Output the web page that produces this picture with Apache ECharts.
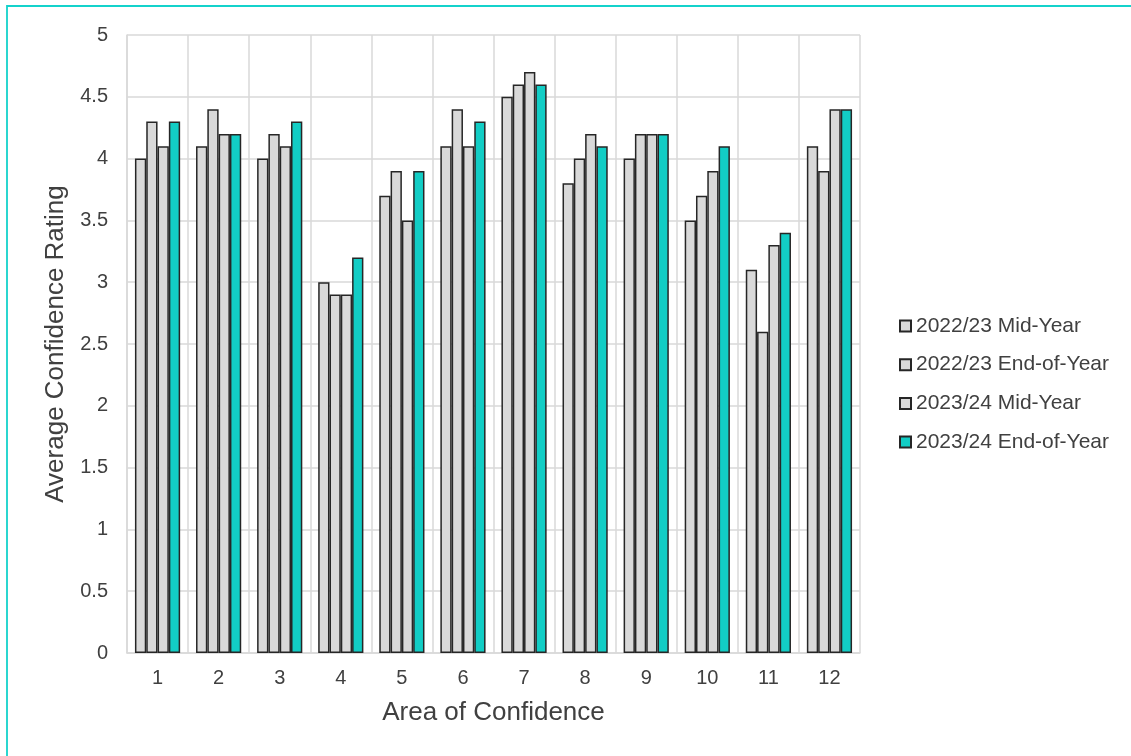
<!DOCTYPE html>
<html>
<head>
<meta charset="utf-8">
<script src="https://cdn.jsdelivr.net/npm/echarts@6/dist/echarts.min.js"></script>
<style>
  html, body { margin: 0; padding: 0; background: #ffffff; }
  #chart { width: 1131px; height: 756px; }
</style>
</head>
<body>
<div id="chart"></div>
<script>
// Areas of confidence (x categories)
const categories = ['1', '2', '3', '4', '5', '6', '7', '8', '9', '10', '11', '12'];

// Average confidence rating per survey round
const midYear2223 = [4.0, 4.1, 4.0, 3.0, 3.7, 4.1, 4.5, 3.8, 4.0, 3.5, 3.1, 4.1];
const endYear2223 = [4.3, 4.4, 4.2, 2.9, 3.9, 4.4, 4.6, 4.0, 4.2, 3.7, 2.6, 3.9];
const midYear2324 = [4.1, 4.2, 4.1, 2.9, 3.5, 4.1, 4.7, 4.2, 4.2, 3.9, 3.3, 4.4];
const endYear2324 = [4.3, 4.2, 4.3, 3.2, 3.9, 4.3, 4.6, 4.1, 4.2, 4.1, 3.4, 4.4];

const seriesNames = ['2022/23 Mid-Year', '2022/23 End-of-Year', '2023/24 Mid-Year', '2023/24 End-of-Year'];
const seriesData = [midYear2223, endYear2223, midYear2324, endYear2324];
const seriesColors = ['#d9d9d9', '#d9d9d9', '#d9d9d9', '#12cdc5'];

const textColor = '#404040';
const gridColor = '#d9d9d9';
const fontFamily = '"Liberation Sans", Arial, sans-serif';

const chart = echarts.init(document.getElementById('chart'), null, { renderer: 'canvas' });

chart.setOption({
  animation: false,
  backgroundColor: '#ffffff',
  textStyle: { fontFamily: fontFamily, color: textColor },
  // teal frame around the chart area
  graphic: [{
    type: 'rect',
    shape: { x: 7, y: 6, width: 1200, height: 800 },
    style: { fill: 'none', stroke: '#14d2cb', lineWidth: 1.8 },
    silent: true
  }],
  grid: { left: 127, right: 271, top: 35, bottom: 103, containLabel: false },
  legend: {
    orient: 'vertical',
    left: 894,
    top: 310,
    itemWidth: 11,
    itemHeight: 11,
    itemGap: 16.7,
    icon: 'rect',
    textStyle: { fontSize: 21, color: textColor, fontFamily: fontFamily, lineHeight: 22 },
    data: seriesNames
  },
  xAxis: {
    type: 'category',
    data: categories,
    name: 'Area of Confidence',
    nameLocation: 'middle',
    nameGap: 47,
    nameTextStyle: { fontSize: 26, color: textColor, fontFamily: fontFamily },
    axisLine: { show: true, lineStyle: { color: gridColor, width: 1.5 } },
    axisTick: { show: false },
    axisLabel: { fontSize: 20, color: textColor, margin: 15, fontFamily: fontFamily },
    splitLine: { show: true, interval: 0, lineStyle: { color: gridColor, width: 1.5 } }
  },
  yAxis: {
    type: 'value',
    min: 0,
    max: 5,
    interval: 0.5,
    name: 'Average Confidence Rating',
    nameLocation: 'middle',
    nameGap: 56,
    nameRotate: 90,
    nameTextStyle: { fontSize: 26, color: textColor, fontFamily: fontFamily },
    axisLine: { show: true, lineStyle: { color: gridColor, width: 1.5 } },
    axisTick: { show: false },
    axisLabel: { fontSize: 20, color: textColor, margin: 19, fontFamily: fontFamily },
    splitLine: { show: true, lineStyle: { color: gridColor, width: 1.5 } }
  },
  series: seriesNames.map((name, i) => ({
    name: name,
    type: 'bar',
    data: seriesData[i],
    barGap: '0%',
    barCategoryGap: '26%',
    itemStyle: { color: seriesColors[i], borderColor: '#262626', borderWidth: 1.5 },
    emphasis: { disabled: true }
  }))
});
</script>
</body>
</html>
